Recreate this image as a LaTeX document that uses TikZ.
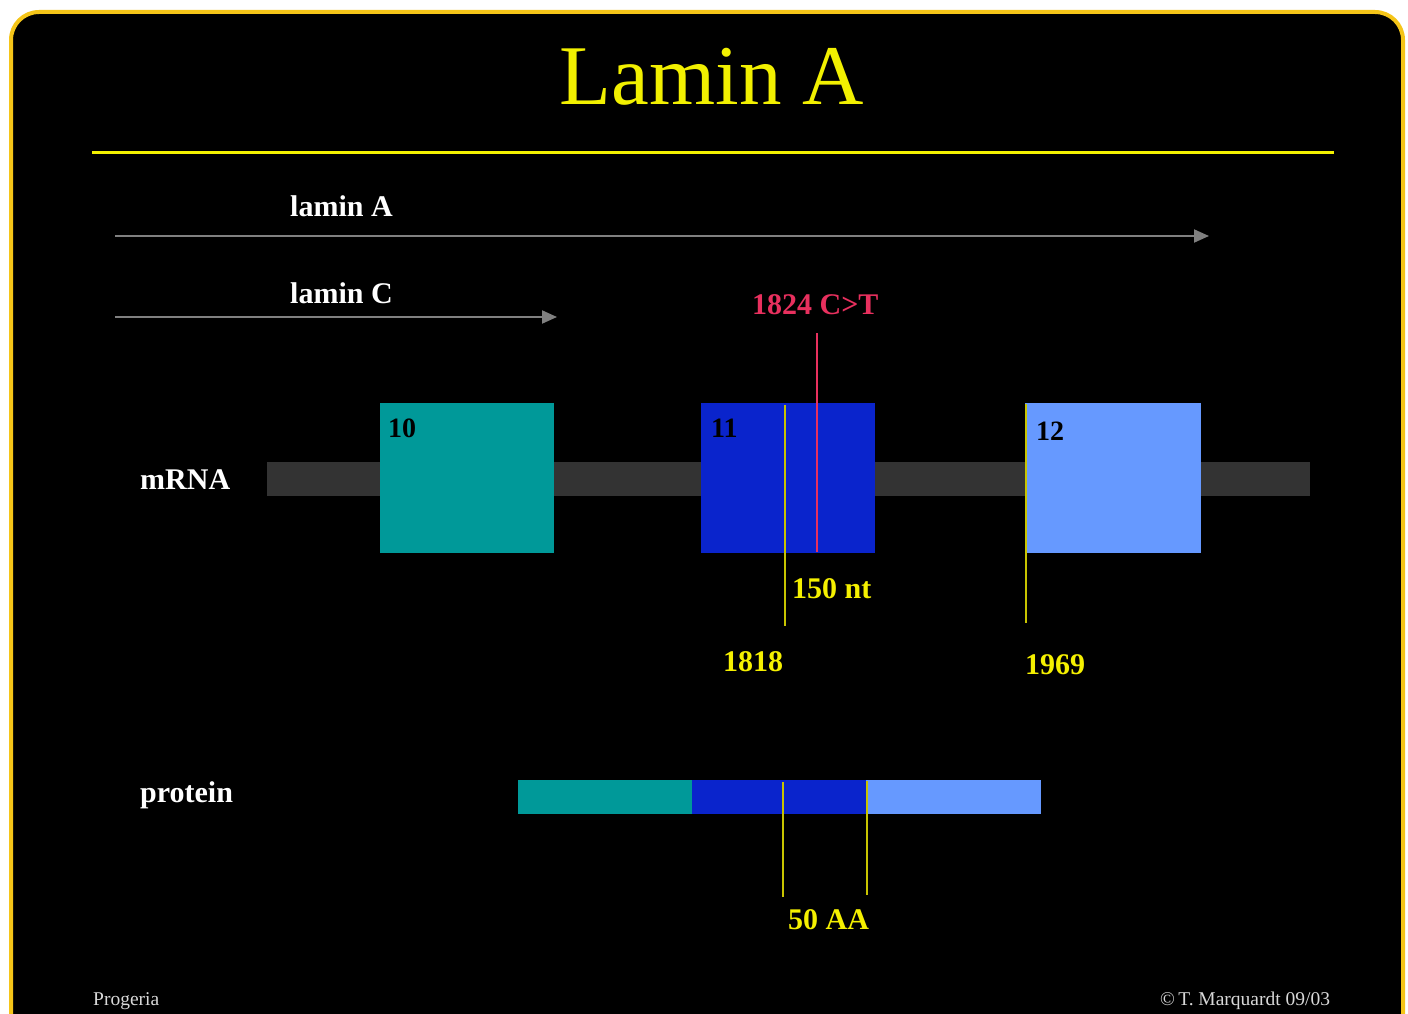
\documentclass[tikz,border=0pt]{standalone}
\usepackage{fontspec}
\setmainfont{Liberation Serif}
\usetikzlibrary{arrows.meta}
\definecolor{ttl}{HTML}{F2F000}
\definecolor{frameY}{HTML}{F5C518}
\definecolor{tealx}{HTML}{009999}
\definecolor{bluex}{HTML}{0A24CC}
\definecolor{lbluex}{HTML}{6699FF}
\definecolor{barx}{HTML}{333333}
\definecolor{arrx}{HTML}{808080}
\definecolor{ylinex}{HTML}{C8C400}
\definecolor{ytext}{HTML}{F5F000}
\definecolor{redx}{HTML}{E8305E}
\definecolor{footx}{HTML}{D8D8D8}
\tikzset{
  lbl/.style={font=\fontsize{30}{34}\selectfont\bfseries, inner sep=0, anchor=base west},
  exlbl/.style={font=\fontsize{28}{32}\selectfont\bfseries, text=black, inner sep=0, anchor=base west},
  exon/.style={inner sep=0, minimum width=174pt, minimum height=150pt, anchor=north west},
  pseg/.style={inner sep=0, minimum width=174pt, minimum height=34pt, anchor=north west},
  garrow/.style={draw=arrx, line width=2pt, -{Triangle[length=15pt,width=13pt]}},
  yline/.style={draw=ylinex, line width=2pt},
  foot/.style={font=\fontsize{19.5}{21}\selectfont, text=footx, inner sep=0, anchor=base west}
}
\begin{document}
\begin{tikzpicture}[x=1pt,y=-1pt]
\useasboundingbox (0,0) rectangle (1408,1014);
\fill[white] (0,0) rectangle (1408,1014);
\begin{scope}
\clip (0,0) rectangle (1408,1014);
\draw[frameY, line width=4pt, fill=black, rounded corners=28pt] (11,12) rectangle (1403,1050);
\end{scope}
% title
\node[font=\fontsize{85}{90}\selectfont, text=ttl, inner sep=0, anchor=base] (title) at (712,105) {Lamin A};
\coordinate (rl) at (92,153);
\coordinate (rr) at (1334,153);
\draw[ttl, line width=3pt] (rl) -- (rr);
% transcripts
\node[lbl, text=white] (lamA) at (290,216) {lamin A};
\coordinate (aS) at (115,236);
\coordinate (aE) at (1209,236);
\draw[garrow] (aS) -- (aE);
\node[lbl, text=white] (lamC) at (290,303) {lamin C};
\coordinate (cS) at (115,317);
\coordinate (cE) at (557,317);
\draw[garrow] (cS) -- (cE);
% mRNA
\node[lbl, text=white] (mrna) at (140,489) {mRNA};
\node[inner sep=0, minimum width=1043pt, minimum height=34pt, anchor=north west, fill=barx] (bar) at (267,462) {};
\node[exon, fill=tealx] (e10) at (380,403) {};
\node[exon, fill=bluex] (e11) at (701,403) {};
\node[exon, fill=lbluex, minimum width=176pt] (e12) at (1025,403) {};
\node[exlbl] (l10) at (388,437) {10};
\node[exlbl] (l11) at (711,437) {11};
\node[exlbl] (l12) at (1036,440) {12};
% mutation
\node[lbl, text=redx] (mut) at (752,314) {1824 C>T};
\coordinate (mT) at (817,333);
\coordinate (mB) at (817,552);
\draw[redx, line width=2pt] (mT) -- (mB);
% markers
\coordinate (y1T) at (785,405);
\coordinate (y1B) at (785,626);
\draw[yline] (y1T) -- (y1B);
\coordinate (y2T) at (1026,404);
\coordinate (y2B) at (1026,623);
\draw[yline] (y2T) -- (y2B);
\node[lbl, text=ytext] (nt) at (792,598) {150 nt};
\node[lbl, text=ytext] (n1818) at (723,671) {1818};
\node[lbl, text=ytext] (n1969) at (1025,674) {1969};
% protein
\node[lbl, text=white] (prot) at (140,802) {protein};
\node[pseg, fill=tealx] (p1) at (518,780) {};
\node[pseg, fill=bluex] (p2) at (692,780) {};
\node[pseg, fill=lbluex, minimum width=175pt] (p3) at (866,780) {};
\coordinate (y3T) at (783,782);
\coordinate (y3B) at (783,897);
\draw[yline] (y3T) -- (y3B);
\coordinate (y4T) at (867,781);
\coordinate (y4B) at (867,895);
\draw[yline] (y4T) -- (y4B);
\node[lbl, text=ytext] (aa) at (788,929) {50 AA};
% footer
\node[foot] (fl) at (93,1005) {Progeria};
\node[foot] (fr) at (1160,1005) {\textcopyright\,T. Marquardt 09/03};
\end{tikzpicture}
\end{document}
